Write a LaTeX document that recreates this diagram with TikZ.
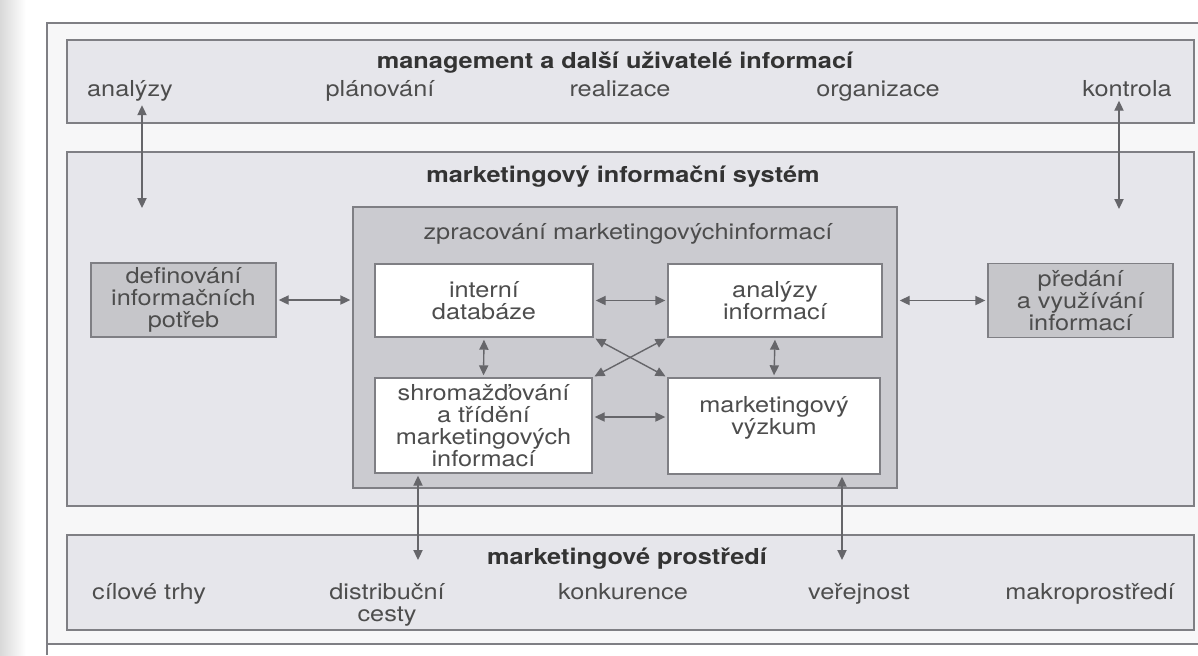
\documentclass[tikz,border=0pt]{standalone}
\usepackage{fontspec}
\setmainfont{TeX Gyre Heros}[FakeStretch=1.15]
\usetikzlibrary{shapes, arrows.meta}

\definecolor{bandfill}{HTML}{E6E6EB}
\definecolor{procfill}{HTML}{CBCBD0}
\definecolor{sidefill}{HTML}{C6C6CA}
\definecolor{linegray}{HTML}{7F7F84}
\definecolor{txtgray}{HTML}{4D4D4D}
\definecolor{headgray}{HTML}{333333}
\definecolor{pagebg}{HTML}{F7F7F8}

\begin{document}
\begin{tikzpicture}[x=0.5pt, y=-0.5pt,
	every node/.style={font=\fontsize{11pt}{11pt}\selectfont, text=txtgray},
	band/.style={draw=linegray, fill=bandfill, line width=0.7pt, inner sep=0pt, minimum width=563.5pt},
	proc/.style={draw=linegray, fill=procfill, line width=0.7pt, inner sep=0pt},
	inbox/.style={draw=linegray, fill=white, line width=0.7pt, inner sep=0pt, align=center},
	sidebox/.style={draw=linegray, fill=sidefill, line width=0.7pt, inner sep=0pt, align=center, minimum width=92.5pt, minimum height=37pt},
	head/.style={anchor=base, font=\fontsize{11pt}{11pt}\selectfont\bfseries, text=headgray},
	item/.style={anchor=base, inner sep=1pt, align=center},
	biarrow/.style={{Triangle[length=5pt,width=4.6pt]}-{Triangle[length=5pt,width=4.6pt]}, draw=linegray!80!black, line width=0.7pt, shorten <=1pt, shorten >=1pt}]
	\useasboundingbox (0,0) rectangle (1198,655);
	\fill[white] (0,0) rectangle (1198,655);
	\shade[left color=gray!30, right color=white] (0,0) rectangle (26,655);
	\fill[pagebg] (47,23) rectangle (1198,644);
	\draw[linegray, line width=0.6pt] (47,655) -- (47,23) -- (1198,23);
	\draw[linegray, line width=0.6pt] (47,644) -- (1198,644);

	\node[band, minimum height=41.5pt] (mgmt) at (630.5,81.5) {};
	\node[band, minimum height=177pt] (mis) at (630.5,329) {};
	\node[band, minimum height=47.5pt] (prostr) at (630.5,582.5) {};
	\node[proc, minimum width=272pt, minimum height=140.5pt] (zprac) at (625,347.5) {};

	\node[head] (mgmthead) at (615,68) {management a další uživatelé informací};
	\node[item] (analyzy) at (130,96) {analýzy};
	\node[item] (planovani) at (380,96) {plánování};
	\node[item] (realizace) at (620,96) {realizace};
	\node[item] (organizace) at (878,96) {organizace};
	\node[item] (kontrola) at (1127,96) {kontrola};

	\node[head] (mishead) at (623,182) {marketingový informační systém};
	\node[anchor=base] (zprachead) at (628,239) {zpracování marketingovýchinformací};

	\node[sidebox] (defin) at (183.5,300) {definování\\informačních\\potřeb};
	\node[sidebox] (predani) at (1080.5,300.5) {předání\\a využívání\\informací};
	\node[inbox, minimum width=109pt, minimum height=36.5pt] (interni) at (484,300.5) {interní\\databáze};
	\node[inbox, minimum width=107pt, minimum height=36.5pt] (analinf) at (775,300.5) {analýzy\\informací};
	\node[inbox, minimum width=108.5pt, minimum height=47.5pt] (shrom) at (483.5,425.5) {shromažďování\\a třídění\\marketingových\\informací};
	\node[inbox, minimum width=106pt, minimum height=48pt] (vyzkum) at (774,426) {marketingový\\výzkum\\\mbox{}};

	\node[head] (prostrhead) at (627,564) {marketingové prostředí};
	\node[item] (cilove) at (149,599) {cílové trhy};
	\node[item, anchor=north] (distrib) at (387,581) {distribuční\\cesty};
	\node[item] (konkurence) at (623,599) {konkurence};
	\node[item] (verejnost) at (859,599) {veřejnost};
	\node[item] (makro) at (1090,599) {makroprostředí};

	\coordinate (misin1) at (142,210);
	\coordinate (misin2) at (1119,211);
	\coordinate (envin1) at (418,562);
	\coordinate (envin2) at (842,562);

	\draw[biarrow] (analyzy.south -| misin1) -- (misin1);
	\draw[biarrow] (kontrola.south -| misin2) -- (misin2);
	\draw[biarrow] (defin.east) -- (defin.east -| zprac.west);
	\draw[biarrow] (predani.west -| zprac.east) -- (predani.west);
	\draw[biarrow] (interni.east) -- (analinf.west);
	\draw[biarrow] (interni.south) -- (shrom.north);
	\draw[biarrow] (analinf.south) -- (vyzkum.north);
	\draw[biarrow] ([yshift=4.25pt]shrom.east) -- ([yshift=4.25pt]shrom.east -| vyzkum.west);
	\draw[biarrow] (interni.south east) -- (vyzkum.north west);
	\draw[biarrow] (shrom.north east) -- (analinf.south west);
	\draw[biarrow] (shrom.south -| envin1) -- (envin1);
	\draw[biarrow] (vyzkum.south -| envin2) -- (envin2);
\end{tikzpicture}
\end{document}
